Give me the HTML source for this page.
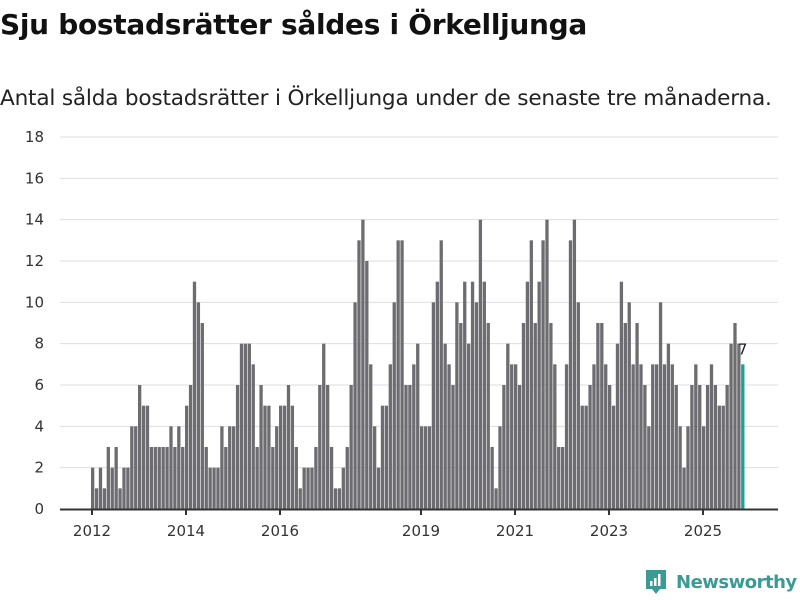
<!DOCTYPE html>
<html><head><meta charset="utf-8">
<style>
body{margin:0;width:800px;height:600px;background:#fff;font-family:"DejaVu Sans","Liberation Sans",sans-serif;overflow:hidden;position:relative}
h1{position:absolute;left:0;top:8px;margin:0;font-size:28px;font-weight:bold;color:#111;letter-spacing:-0.3px}
.sub{position:absolute;left:0;top:86px;font-size:21.6px;color:#222;letter-spacing:-0.2px;white-space:nowrap}
svg{position:absolute;left:0;top:0}
.logo{position:absolute;left:644px;top:569px;display:flex;align-items:center;color:#3a9a94;font-size:18px;font-weight:bold;letter-spacing:-0.5px}
</style></head><body>
<h1>Sju bostadsrätter såldes i Örkelljunga</h1>
<div class="sub">Antal sålda bostadsrätter i Örkelljunga under de senaste tre månaderna.</div>
<svg id="chart" width="800" height="600"></svg>
<div class="logo">
<svg width="24" height="26" style="position:static;margin-right:8px"><path d="M2 1h20v19h-6l-4 5-4-5H2z" fill="#3a9a94"/><rect x="6" y="12" width="2.5" height="5" fill="#fff"/><rect x="10" y="9" width="2.5" height="8" fill="#fff"/><rect x="14" y="5" width="2.5" height="12" fill="#fff"/></svg>
<span>Newsworthy</span></div>
<script>
const startYear = 2012;
const values = [
2,1,2,1,3,2,3,1,2,2,4,4,
6,5,5,3,3,3,3,3,4,3,4,3,
5,6,11,10,9,3,2,2,2,4,3,4,
4,6,8,8,8,7,3,6,5,5,3,4,
5,5,6,5,3,1,2,2,2,3,6,8,
6,3,1,1,2,3,6,10,13,14,12,7,
4,2,5,5,7,10,13,13,6,6,7,8,
4,4,4,10,11,13,8,7,6,10,9,11,
8,11,10,14,11,9,3,1,4,6,8,7,
7,6,9,11,13,9,11,13,14,9,7,3,
3,7,13,14,10,5,5,6,7,9,9,7,
6,5,8,11,9,10,7,9,7,6,4,7,
7,10,7,8,7,6,4,2,4,6,7,6,
4,6,7,6,5,5,6,8,9,8,7];
const yTicks = [0,2,4,6,8,10,12,14,16,18];
const xTickYears = [2012,2014,2016,2019,2021,2023,2025];
const ns="http://www.w3.org/2000/svg";
const svg=document.getElementById('chart');
const x0=91, pxPerYear=47, y0=509, yTop=137, yMax=18;
const xMonth=i=>x0+i*pxPerYear/12;
const xYear=y=>x0+(y-startYear)*pxPerYear;
const yS=v=>y0-v*(y0-yTop)/yMax;
function mk(t,a){const e=document.createElementNS(ns,t);for(const k in a)e.setAttribute(k,a[k]);svg.appendChild(e);return e;}
yTicks.forEach(v=>{
  if(v>0){const g=mk('line',{x1:60,x2:778,y1:yS(v),y2:yS(v),stroke:'#dedede','stroke-width':1});
  
  }
  const t=mk('text',{x:44,y:yS(v)+5,'text-anchor':'end','font-size':15,fill:'#333','font-family':'DejaVu Sans, Liberation Sans, sans-serif'});
  t.textContent=v;
  
  
});
values.forEach((v,i)=>{
  const last=i===values.length-1;
  const r=mk('rect',{x:xMonth(i),y:yS(v),width:3.3,height:y0-yS(v),fill:last?'#1aa197':'#6d6c71'});
  
  
  if(last){const t=mk('text',{x:xMonth(i)+1.5,y:yS(v)-10,'text-anchor':'middle','font-size':15,fill:'#222','font-family':'DejaVu Sans, sans-serif'});
  t.textContent=v;
  
  }
});
const ax=mk('line',{x1:60,x2:778,y1:y0+0.5,y2:y0+0.5,stroke:'#333','stroke-width':2});


xTickYears.forEach(yr=>{
  const x=xYear(yr)+1;
  const tk=mk('line',{x1:x,x2:x,y1:y0,y2:y0+6,stroke:'#333','stroke-width':2});
  
  
  const t=mk('text',{x:x,y:536,'text-anchor':'middle','font-size':15,fill:'#333','font-family':'DejaVu Sans, Liberation Sans, sans-serif'});
  t.textContent=yr;
  
  
});
</script>
</body></html>
